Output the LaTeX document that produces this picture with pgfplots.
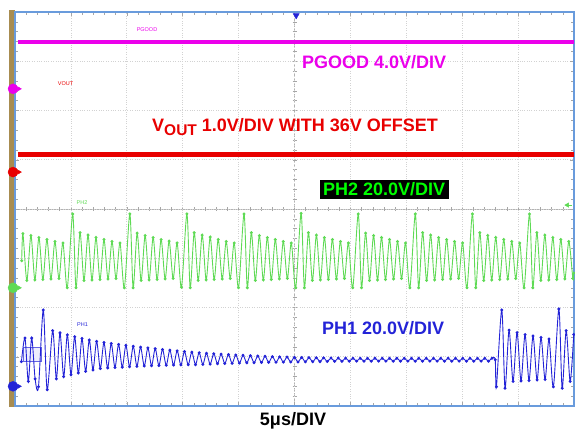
\documentclass[border=0pt]{standalone}
\usepackage{fontspec}
\setmainfont{Liberation Sans}
\usepackage{pgfplots}
\pgfplotsset{compat=1.18}
\definecolor{pgoodc}{RGB}{235,0,235}
\definecolor{voutc}{RGB}{232,0,0}
\definecolor{ph2c}{RGB}{95,218,85}
\definecolor{ph2t}{RGB}{0,255,0}
\definecolor{ph1c}{RGB}{35,35,215}
\definecolor{framec}{RGB}{105,155,220}
\definecolor{barc}{RGB}{168,140,80}

\begin{document}
\begin{tikzpicture}[x=1bp,y=1bp]
\useasboundingbox (0,0) rectangle (575,431);
\fill[barc] (9,24) rectangle (15,421);
% centre cross with its small ticks
\draw[gray!60, line width=0.6bp] (15,222) -- (574,222);
\draw[gray!60, line width=0.6bp, densely dashed] (294.5,25) -- (294.5,419);
\foreach \i in {0,...,50} \draw[gray!70, line width=0.5bp] ({15+\i*11.18},220) -- ++(0,4);
\foreach \i in {0,...,40} \draw[gray!70, line width=0.5bp] (292.5,{25+\i*9.85}) -- ++(4,0);

\begin{axis}[
  at={(15bp,25bp)}, anchor=south west, scale only axis,
  width=559bp, height=394bp,
  xmin=0, xmax=10, ymin=0, ymax=8,
  xtick={0,...,10}, ytick={0,...,8},
  minor x tick num=4, minor y tick num=4,
  xticklabel=\empty, yticklabel=\empty,
  tick align=inside, major tick length=4bp, minor tick length=3bp,
  tick style={gray!70, line width=0.5bp},
  xmajorgrids, ymajorgrids,
  major grid style={gray!35, dotted, line width=0.7bp},
  axis line style={framec, line width=1.5bp},
  clip=false,
]
% PGOOD and VOUT traces
\addplot[pgoodc, line width=4.5bp] coordinates {(0.05,7.39) (10,7.39)};
\addplot[voutc, line width=4.5bp] coordinates {(0.05,5.11) (10,5.11)};

% PH2
\addplot[ph2c, line width=0.9bp, smooth, tension=0.5, mark=*, mark size=1bp] coordinates {
(0.120,2.95) (0.142,3.50) (0.212,2.55) (0.285,3.46) (0.356,2.56) (0.428,3.42) (0.499,2.57)
(0.571,3.38) (0.643,2.58) (0.714,3.34) (0.786,2.59) (0.857,3.31) (0.935,2.40)
(1.032,3.90) (1.091,2.40) (1.163,3.52) (1.234,2.55) (1.306,3.47) (1.377,2.56) (1.449,3.42)
(1.520,2.57) (1.592,3.38) (1.664,2.58) (1.735,3.34) (1.807,2.59) (1.878,3.31) (1.956,2.40)
(2.054,3.90) (2.113,2.40) (2.185,3.51) (2.256,2.55) (2.328,3.46) (2.399,2.56) (2.471,3.42)
(2.542,2.57) (2.614,3.38) (2.686,2.58) (2.757,3.35) (2.829,2.59) (2.900,3.31) (2.978,2.41)
(3.075,3.90) (3.134,2.40) (3.206,3.52) (3.277,2.55) (3.349,3.47) (3.420,2.56) (3.492,3.43)
(3.563,2.57) (3.635,3.38) (3.707,2.58) (3.778,3.34) (3.850,2.59) (3.921,3.31) (3.999,2.40)
(4.097,3.90) (4.156,2.40) (4.228,3.52) (4.299,2.55) (4.371,3.46) (4.442,2.56) (4.514,3.42)
(4.585,2.57) (4.657,3.38) (4.729,2.58) (4.800,3.34) (4.872,2.59) (4.943,3.31) (5.021,2.40)
(5.118,3.91) (5.177,2.40) (5.249,3.52) (5.320,2.55) (5.392,3.47) (5.463,2.56) (5.535,3.42)
(5.606,2.57) (5.678,3.38) (5.750,2.58) (5.821,3.34) (5.893,2.59) (5.964,3.31) (6.042,2.40)
(6.140,3.90) (6.199,2.40) (6.271,3.51) (6.342,2.55) (6.414,3.46) (6.485,2.56) (6.557,3.42)
(6.628,2.57) (6.700,3.38) (6.772,2.58) (6.843,3.34) (6.915,2.59) (6.986,3.31) (7.064,2.40)
(7.161,3.90) (7.220,2.40) (7.292,3.52) (7.363,2.55) (7.435,3.47) (7.506,2.56) (7.578,3.42)
(7.649,2.57) (7.721,3.38) (7.793,2.58) (7.864,3.34) (7.936,2.59) (8.007,3.31) (8.085,2.40)
(8.183,3.90) (8.242,2.40) (8.314,3.52) (8.385,2.55) (8.457,3.46) (8.528,2.56) (8.600,3.42)
(8.671,2.57) (8.743,3.38) (8.815,2.58) (8.886,3.34) (8.958,2.59) (9.029,3.31) (9.107,2.40)
(9.204,3.90) (9.263,2.40) (9.335,3.52) (9.406,2.55) (9.478,3.47) (9.549,2.56) (9.621,3.42)
(9.692,2.57) (9.764,3.38) (9.836,2.58) (9.907,3.34) (9.979,2.59) (9.995,2.70)
};

% PH1
\draw[ph1c!70, fill=ph1c!8, line width=0.6bp] (axis cs:0.149,0.90) rectangle (axis cs:0.478,1.20);
\addplot[ph1c, line width=0.9bp, smooth, tension=0.5, mark=*, mark size=1bp] coordinates {
(0.115,0.90) (0.179,1.38) (0.238,0.50) (0.298,1.38) (0.360,0.55) (0.420,0.39) (0.506,1.95)
(0.575,0.33) (0.674,1.530) (0.740,0.553) (0.805,1.485) (0.871,0.596) (0.936,1.444) (1.002,0.635)
(1.067,1.406) (1.133,0.671) (1.198,1.372) (1.264,0.704) (1.329,1.341) (1.395,0.733) (1.460,1.313)
(1.526,0.760) (1.591,1.290) (1.657,0.772) (1.722,1.270) (1.788,0.781) (1.853,1.251) (1.919,0.789)
(1.984,1.232) (2.050,0.797) (2.115,1.214) (2.181,0.805) (2.246,1.196) (2.312,0.811) (2.377,1.180)
(2.443,0.817) (2.508,1.164) (2.574,0.822) (2.639,1.149) (2.705,0.826) (2.770,1.135) (2.836,0.831)
(2.901,1.120) (2.967,0.834) (3.032,1.106) (3.098,0.838) (3.163,1.094) (3.229,0.839) (3.294,1.081)
(3.360,0.844) (3.425,1.071) (3.491,0.850) (3.556,1.062) (3.622,0.857) (3.687,1.053) (3.753,0.862)
(3.818,1.045) (3.884,0.867) (3.949,1.037) (4.015,0.871) (4.080,1.030) (4.146,0.876) (4.211,1.022)
(4.277,0.879) (4.342,1.016) (4.408,0.883) (4.473,1.010) (4.539,0.886) (4.604,1.004) (4.670,0.889)
(4.735,0.998) (4.801,0.891) (4.866,0.993) (4.932,0.894) (4.997,0.988) (5.063,0.895) (5.128,0.984)
(5.194,0.897) (5.259,0.982) (5.325,0.899) (5.390,0.980) (5.456,0.901) (5.521,0.978) (5.587,0.903)
(5.652,0.976) (5.718,0.905) (5.783,0.974) (5.849,0.907) (5.914,0.972) (5.980,0.909) (6.045,0.97)
(6.111,0.91) (6.176,0.97) (6.242,0.91) (6.307,0.97) (6.373,0.91) (6.438,0.97) (6.504,0.91)
(6.569,0.97) (6.635,0.91) (6.700,0.97) (6.766,0.91) (6.831,0.97) (6.897,0.91) (6.962,0.97)
(7.028,0.91) (7.093,0.97) (7.159,0.91) (7.224,0.97) (7.290,0.91) (7.355,0.97) (7.421,0.91)
(7.486,0.97) (7.552,0.91) (7.617,0.97) (7.683,0.91) (7.748,0.97) (7.814,0.91) (7.879,0.97)
(7.945,0.91) (8.010,0.97) (8.076,0.91) (8.141,0.97) (8.207,0.91) (8.272,0.97) (8.338,0.91)
(8.403,0.97) (8.469,0.91) (8.534,0.97) (8.590,0.94) (8.612,0.39) (8.707,1.95) (8.766,0.36)
(8.838,1.54) (8.909,0.50) (8.981,1.49) (9.052,0.51) (9.124,1.45) (9.195,0.52) (9.267,1.42)
(9.339,0.53) (9.410,1.39) (9.482,0.54) (9.553,1.36) (9.631,0.39) (9.729,1.97) (9.788,0.36)
(9.860,1.53) (9.931,0.50) (9.995,1.45)
};

% ground level markers, trigger markers
\addplot[only marks, mark=*, mark size=5bp, pgoodc] coordinates {(-0.036,6.44)};
\addplot[only marks, mark=triangle*, mark size=2.5bp, mark options={rotate=-90}, pgoodc] coordinates {(0.07,6.44)};
\addplot[only marks, mark=*, mark size=5bp, voutc] coordinates {(-0.036,4.75)};
\addplot[only marks, mark=triangle*, mark size=2.5bp, mark options={rotate=-90}, voutc] coordinates {(0.07,4.75)};
\addplot[only marks, mark=*, mark size=5bp, ph2c] coordinates {(-0.036,2.40)};
\addplot[only marks, mark=triangle*, mark size=2.5bp, mark options={rotate=-90}, ph2c] coordinates {(0.07,2.40)};
\addplot[only marks, mark=*, mark size=5bp, ph1c] coordinates {(-0.036,0.40)};
\addplot[only marks, mark=triangle*, mark size=2.5bp, mark options={rotate=-90}, ph1c] coordinates {(0.07,0.40)};
\addplot[only marks, mark=triangle*, mark size=3.5bp, mark options={rotate=180}, ph1c] coordinates {(5.03,7.93)};
\addplot[ph2c, line width=1bp] coordinates {(9.88,4.08) (9.97,4.08)};
\addplot[only marks, mark=triangle*, mark size=2.5bp, mark options={rotate=90}, ph2c] coordinates {(9.88,4.08)};
\end{axis}

% labels
\node[anchor=base west, pgoodc, font=\fontsize{18bp}{20bp}\selectfont\bfseries, inner sep=0] at (302,363) {PGOOD 4.0V/DIV};
\node[anchor=base west, voutc, font=\fontsize{18bp}{20bp}\selectfont\bfseries, inner sep=0] at (152,299.5)
  {V\raisebox{-4bp}{\fontsize{15.5bp}{17bp}\selectfont OUT} 1.0V/DIV WITH 36V OFFSET};
\fill[black] (320,232) rectangle (449,251);
\node[anchor=base west, ph2t, font=\fontsize{18bp}{20bp}\selectfont\bfseries, inner sep=0] at (323,235.5) {PH2 20.0V/DIV};
\node[anchor=base west, ph1c, font=\fontsize{18bp}{20bp}\selectfont\bfseries, inner sep=0] at (322,97) {PH1 20.0V/DIV};
\node[anchor=base, black, font=\fontsize{18bp}{20bp}\selectfont\bfseries, inner sep=0] at (293,6) {5μs/DIV};
\node[pgoodc, font=\fontsize{5.5bp}{6bp}\selectfont, inner sep=0] at (147,401) {PGOOD};
\node[voutc, font=\fontsize{5.5bp}{6bp}\selectfont, inner sep=0] at (65.5,347) {VOUT};
\node[ph2c, font=\fontsize{5.5bp}{6bp}\selectfont, inner sep=0] at (82,228.5) {PH2};
\node[ph1c, font=\fontsize{5.5bp}{6bp}\selectfont, inner sep=0] at (82.5,106) {PH1};
\end{tikzpicture}
\end{document}
